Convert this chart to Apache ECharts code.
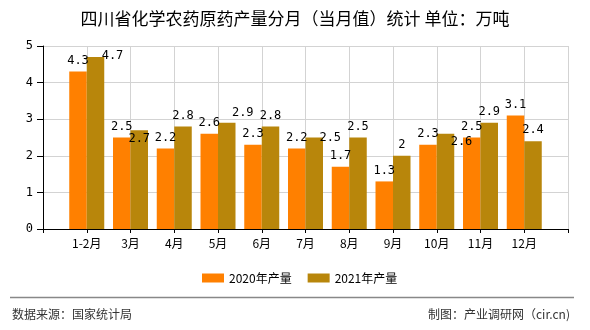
<!DOCTYPE html>
<html>
<head>
<meta charset="utf-8">
<script src="https://cdn.jsdelivr.net/npm/echarts@6/dist/echarts.min.js"></script>
<style>
html,body{margin:0;padding:0;background:#fff;}
#c{width:590px;height:330px;}
</style>
</head>
<body>
<div id="c"></div>
<script>
// ---- data ----
var titleText = '四川省化学农药原药产量分月（当月值）统计 单位：万吨';
var months = ['1-2月','3月','4月','5月','6月','7月','8月','9月','10月','11月','12月'];
var seriesNames = ['2020年产量','2021年产量'];
var values2020 = [4.3, 2.5, 2.2, 2.6, 2.3, 2.2, 1.7, 1.3, 2.3, 2.5, 3.1];
var values2021 = [4.7, 2.7, 2.8, 2.9, 2.8, 2.5, 2.5, 2.0, 2.6, 2.9, 2.4];
var yTicks = [0, 1, 2, 3, 4, 5];
var sourceText = '数据来源：国家统计局';
var creditText = '制图：产业调研网（cir.cn)';

// label placement tweaks (style only, index -> [dx, dy])
var shift2021 = {0: [17, 10], 1: [0, 20], 3: [16, 1], 5: [16, 11], 8: [16, 19]};

var axisData = [''].concat(months).concat(['']);
function pad(arr, shifts) {
  var out = ['-'];
  arr.forEach(function (v, i) {
    var item = { value: v };
    if (shifts && shifts[i]) item.label = { offset: shifts[i] };
    out.push(item);
  });
  out.push('-');
  return out;
}

var chart = echarts.init(document.getElementById('c'), null, { renderer: 'canvas' });
var labelFont = { show: true, position: 'top', distance: 5, color: '#000', fontSize: 12, fontFamily: 'DejaVu Sans Mono' };
chart.setOption({
  animation: false,
  backgroundColor: '#fff',
  title: {
    text: titleText, left: 'center', top: 5,
    textStyle: { fontSize: 17, fontWeight: 'normal', color: '#000', fontFamily: 'Noto Sans CJK SC' }
  },
  legend: {
    left: 197, top: 267, itemWidth: 22, itemHeight: 9, itemGap: 16,
    icon: 'rect',
    textStyle: { fontSize: 12, color: '#000', fontFamily: 'Noto Sans CJK SC' },
    data: seriesNames
  },
  grid: { left: 43, right: 22, top: 46, bottom: 101, containLabel: false },
  xAxis: {
    type: 'category', data: axisData, boundaryGap: false,
    axisLine: { lineStyle: { color: '#000', width: 1 } },
    axisTick: { show: true, length: 4, lineStyle: { color: '#000' } },
    axisLabel: { margin: 8, color: '#000', fontSize: 12, fontFamily: 'Noto Sans CJK SC', interval: 0 },
    splitLine: { show: true, lineStyle: { color: '#d3d3d3' } }
  },
  yAxis: {
    type: 'value', min: yTicks[0], max: yTicks[yTicks.length - 1], interval: 1,
    axisLine: { show: true, lineStyle: { color: '#000', width: 1 } },
    axisTick: { show: true, length: 6, lineStyle: { color: '#000' } },
    axisLabel: { margin: 10, color: '#000', fontSize: 12, fontFamily: 'DejaVu Sans Mono' },
    splitLine: { show: true, lineStyle: { color: '#d3d3d3' } }
  },
  series: [
    { name: seriesNames[0], type: 'bar', barWidth: 17.5, barGap: '0%',
      itemStyle: { color: '#FF8000' }, label: labelFont, data: pad(values2020) },
    { name: seriesNames[1], type: 'bar', barWidth: 17.5, barGap: '0%',
      itemStyle: { color: '#B8860B' }, label: labelFont, data: pad(values2021, shift2021) }
  ],
  graphic: [
    { type: 'line', shape: { x1: 10, y1: 297.5, x2: 574, y2: 297.5 }, style: { stroke: '#888', lineWidth: 1.5 } },
    { type: 'text', left: 12, top: 308, style: { text: sourceText, fontSize: 12, fill: '#333', fontFamily: 'Noto Sans CJK SC' } },
    { type: 'text', right: 20, top: 308, style: { text: creditText, fontSize: 12, fill: '#333', fontFamily: 'Noto Sans CJK SC' } }
  ]
});
</script>
</body>
</html>
